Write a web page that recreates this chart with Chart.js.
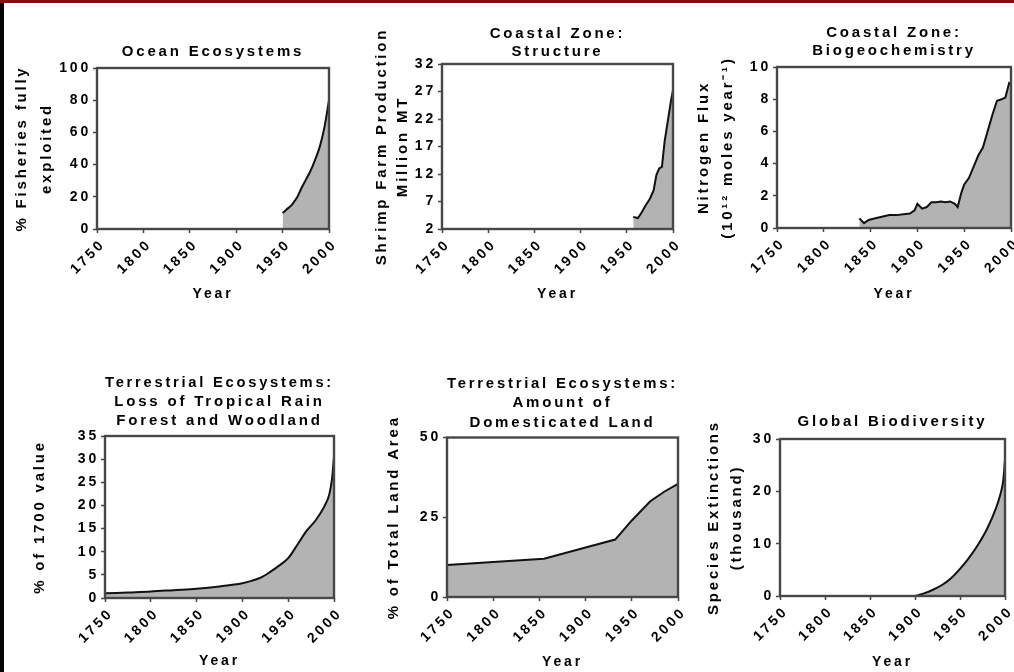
<!DOCTYPE html>
<html>
<head>
<meta charset="utf-8">
<title>Human impact indicators, 1750–2000</title>
<script src="https://cdn.jsdelivr.net/npm/chart.js@4.4.1/dist/chart.umd.min.js"></script>
<style>
  html, body { margin: 0; padding: 0; background: #fff; overflow: hidden; }
  #page { position: relative; width: 1014px; height: 672px; background: #fff; overflow: hidden; }
  #topbar { position: absolute; left: 0; top: 0; width: 1014px; height: 3px; background: #8a0c0c; z-index: 3; }
  #leftbar { position: absolute; left: 0; top: 0; width: 4px; height: 672px; background: #050505; z-index: 2; }
  .cell { position: absolute; }
  .cell canvas { display: block; }
</style>
</head>
<body>
<div id="page">
  <div id="leftbar"></div>
  <div id="topbar"></div>
</div>
<script>
// ---- shared axis values ----
const xTicks = [1750, 1800, 1850, 1900, 1950, 2000];

// ---- Ocean ecosystems: % fisheries fully exploited ----
const fishYears  = [1950, 1955, 1960, 1963, 1966, 1970, 1975, 1980, 1985, 1990, 1995, 2000];
const fishValues = [10, 12.5, 15, 17.5, 20, 25, 30.5, 36, 43, 51, 63, 80];
const fishTicks  = [0, 20, 40, 60, 80, 100];

// ---- Coastal zone structure: shrimp farm production ----
const shrimpYears  = [1957, 1962, 1966, 1970, 1975, 1979, 1982, 1985, 1988, 1991, 1995, 1998, 2000];
const shrimpValues = [4.2, 4.0, 5.0, 6.2, 7.5, 9.0, 11.8, 13.0, 13.3, 18.0, 22.3, 25.5, 27.2];
const shrimpTicks  = [2, 7, 12, 17, 22, 27, 32];

// ---- Coastal zone biogeochemistry: nitrogen flux ----
const nitroYears  = [1838, 1843, 1848, 1855, 1862, 1870, 1878, 1885, 1892, 1897, 1900, 1905, 1910, 1915, 1920, 1925, 1930, 1935, 1940, 1943, 1947, 1950, 1955, 1960, 1965, 1970, 1975, 1980, 1985, 1990, 1994, 1998, 2000];
const nitroValues = [0.6, 0.3, 0.5, 0.6, 0.7, 0.8, 0.8, 0.85, 0.9, 1.1, 1.5, 1.2, 1.3, 1.6, 1.6, 1.65, 1.6, 1.65, 1.5, 1.3, 2.2, 2.7, 3.1, 3.8, 4.5, 5.0, 6.0, 7.0, 7.9, 8.0, 8.1, 9.0, 8.9];
const nitroTicks  = [0, 2, 4, 6, 8, 10];

// ---- Terrestrial: loss of tropical rain forest and woodland ----
const forestYears  = [1750, 1775, 1800, 1825, 1850, 1875, 1900, 1910, 1920, 1930, 1940, 1950, 1960, 1970, 1980, 1990, 1995, 1998, 2000];
const forestValues = [1.0, 1.2, 1.4, 1.7, 2.0, 2.5, 3.2, 3.7, 4.4, 5.6, 7.0, 8.6, 11.5, 14.5, 16.8, 20.0, 22.5, 26.0, 30.5];
const forestTicks  = [0, 5, 10, 15, 20, 25, 30, 35];

// ---- Terrestrial: amount of domesticated land ----
const landYears  = [1750, 1800, 1855, 1900, 1932, 1950, 1970, 1985, 2000];
const landValues = [10, 11, 12, 15.5, 18, 24, 30, 33, 35.5];
const landTicks  = [0, 25, 50];

// ---- Global biodiversity: species extinctions (thousand) ----
const extYears  = [1900, 1910, 1920, 1930, 1940, 1950, 1960, 1970, 1980, 1990, 1995, 1998, 2000];
const extValues = [0, 0.5, 1.2, 2.1, 3.4, 5.2, 7.3, 9.8, 12.8, 16.8, 19.5, 22.0, 26.0];
const extTicks  = [0, 10, 20, 30];

// ---- styling ----
const INK = '#000000';
const FRAME = '#474747';
const AREA = '#b3b3b3';
const TRACK = '2.8px';
const PAD_R = 14;

Chart.defaults.font.family = "'Liberation Sans', Arial, Helvetica, sans-serif";
Chart.defaults.font.weight = 'bold';
Chart.defaults.color = INK;

// wide tracking on every label
const tracking = {
  id: 'tracking',
  beforeUpdate(chart) { chart.ctx.letterSpacing = TRACK; },
  beforeLayout(chart) { chart.ctx.letterSpacing = TRACK; },
  beforeDraw(chart) { chart.ctx.letterSpacing = TRACK; }
};

// closed box around the plotting area
const frame = {
  id: 'frame',
  afterDatasetsDraw(chart) {
    const { ctx, chartArea: a } = chart;
    ctx.save();
    ctx.strokeStyle = FRAME;
    ctx.lineWidth = 2.4;
    ctx.strokeRect(a.left, a.top, a.right - a.left, a.bottom - a.top);
    ctx.restore();
  }
};

const panels = [
  { title: ['Ocean Ecosystems'], titleLH: 18, titlePad: 7,
    yTitle: ['% Fisheries fully', 'exploited'], yLH: 25, d1: 76,
    box: [97, 68, 329, 229], xh: 74,
    years: fishYears, values: fishValues, yTicks: fishTicks, smooth: true },
  { title: ['Coastal Zone:', 'Structure'], titleLH: 18, titlePad: 3,
    yTitle: ['Shrimp Farm Production', 'Million MT'], yLH: 21, d1: 60.5,
    box: [442, 64, 673, 229], xh: 74,
    years: shrimpYears, values: shrimpValues, yTicks: shrimpTicks, smooth: false },
  { title: ['Coastal Zone:', 'Biogeochemistry'], titleLH: 18, titlePad: 7,
    yTitle: ['Nitrogen Flux', '(10\u00B9\u00B2 moles year\u207B\u00B9)'], yLH: 24, d1: 73,
    box: [777, 67, 1011, 228], xh: 75,
    years: nitroYears, values: nitroValues, yTicks: nitroTicks, smooth: false },
  { title: ['Terrestrial Ecosystems:', 'Loss of Tropical Rain', 'Forest and Woodland'], titleLH: 19, titlePad: 6,
    yTitle: ['% of 1700 value'], yLH: 18, d1: 65.5,
    box: [105, 436, 334, 598], xh: 72,
    years: forestYears, values: forestValues, yTicks: forestTicks, smooth: true },
  { title: ['Terrestrial Ecosystems:', 'Amount of', 'Domesticated Land'], titleLH: 19.5, titlePad: 5,
    yTitle: ['% of Total Land Area'], yLH: 18, d1: 53.5,
    box: [447, 437, 678, 597], xh: 73,
    years: landYears, values: landValues, yTicks: landTicks, smooth: false },
  { title: ['Global Biodiversity'], titleLH: 18, titlePad: 8,
    yTitle: ['Species Extinctions', '(thousand)'], yLH: 23, d1: 66.5,
    box: [780, 439, 1005, 596], xh: 75,
    years: extYears, values: extValues, yTicks: extTicks, smooth: true }
];

const page = document.getElementById('page');

panels.forEach((p) => {
  const [L, T, R, B] = p.box;
  const left = Math.round(L - p.d1 - p.yLH / 2);
  const yw = L - left;
  const titleH = p.title.length * p.titleLH + p.titlePad;
  const top = Math.round(T - titleH);
  const width = yw + (R - L) + PAD_R;
  const height = Math.round(titleH + (B - T) + p.xh);
  const xh = height - (B - top);

  const cell = document.createElement('div');
  cell.className = 'cell';
  cell.style.left = left + 'px';
  cell.style.top = top + 'px';
  const canvas = document.createElement('canvas');
  canvas.width = width;
  canvas.height = height;
  canvas.style.width = width + 'px';
  canvas.style.height = height + 'px';
  cell.appendChild(canvas);
  page.appendChild(cell);

  new Chart(canvas, {
    type: 'line',
    data: {
      datasets: [{
        data: p.years.map((yr, i) => ({ x: yr, y: p.values[i] })),
        borderColor: '#111111',
        borderWidth: 2,
        backgroundColor: AREA,
        fill: 'start',
        pointRadius: 0,
        cubicInterpolationMode: p.smooth ? 'monotone' : 'default',
        tension: 0
      }]
    },
    options: {
      responsive: false,
      devicePixelRatio: 1,
      animation: false,
      events: [],
      layout: { padding: { left: 0, top: 0, right: PAD_R, bottom: 0 } },
      plugins: {
        legend: { display: false },
        tooltip: { enabled: false },
        title: {
          display: true,
          text: p.title,
          fullSize: false,
          color: INK,
          font: { size: 15, weight: 'bold', lineHeight: p.titleLH + 'px' },
          padding: { top: 0, bottom: p.titlePad }
        }
      },
      scales: {
        x: {
          type: 'linear',
          min: 1750,
          max: 2000,
          afterBuildTicks: (s) => { s.ticks = xTicks.map((v) => ({ value: v })); },
          ticks: {
            autoSkip: false,
            minRotation: 45,
            maxRotation: 45,
            padding: 3,
            labelOffset: 6,
            color: INK,
            font: { size: 14, weight: 'bold' },
            callback: (v) => String(v)
          },
          grid: { drawOnChartArea: false, drawTicks: true, tickLength: 4, tickColor: FRAME, tickWidth: 1.5 },
          border: { display: false },
          title: {
            display: true,
            text: 'Year',
            color: INK,
            font: { size: 14, weight: 'bold', lineHeight: 1.2 },
            padding: { top: 0, bottom: 0 }
          },
          afterFit: (s) => { s.height = xh; s.paddingLeft = 0; s.paddingRight = 0; }
        },
        y: {
          type: 'linear',
          min: p.yTicks[0],
          max: p.yTicks[p.yTicks.length - 1],
          afterBuildTicks: (s) => { s.ticks = p.yTicks.map((v) => ({ value: v })); },
          ticks: {
            padding: 2,
            color: INK,
            font: { size: 14, weight: 'bold' },
            callback: (v) => String(v)
          },
          grid: { drawOnChartArea: false, drawTicks: true, tickLength: 4, tickColor: FRAME, tickWidth: 1.5 },
          border: { display: false },
          title: {
            display: true,
            text: p.yTitle,
            color: INK,
            font: { size: 15, weight: 'bold', lineHeight: p.yLH + 'px' },
            padding: 0
          },
          afterFit: (s) => { s.width = yw; s.paddingTop = 0; s.paddingBottom = 0; }
        }
      }
    },
    plugins: [tracking, frame]
  });
});
</script>
</body>
</html>
